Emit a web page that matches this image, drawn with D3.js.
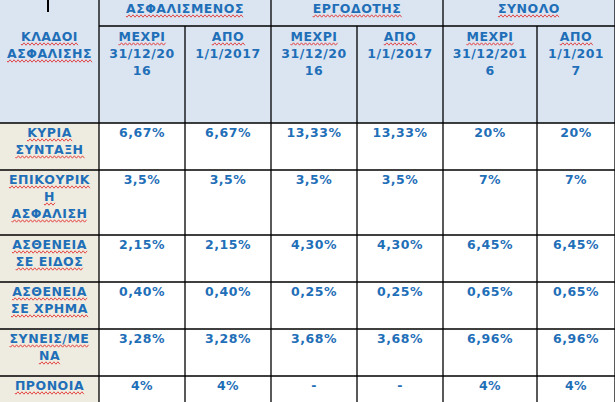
<!DOCTYPE html><html><head><meta charset="utf-8"><script src="https://d3js.org/d3.v7.min.js"></script>
<style>body{margin:0;background:#fff}</style></head><body><svg id="c" width="615" height="402"></svg>
<script>
const groups=["ΑΣΦΑΛΙΣΜΕΝΟΣ","ΕΡΓΟΔΟΤΗΣ","ΣΥΝΟΛΟ"];
const subHeaders=[["ΜΕΧΡΙ","31/12/20","16"],["ΑΠΟ","1/1/2017"],["ΜΕΧΡΙ","31/12/20","16"],["ΑΠΟ","1/1/2017"],["ΜΕΧΡΙ","31/12/201","6"],["ΑΠΟ","1/1/201","7"]];
const rowLabels=[["ΚΥΡΙΑ","ΣΥΝΤΑΞΗ"],["ΕΠΙΚΟΥΡΙΚ","Η","ΑΣΦΑΛΙΣΗ"],["ΑΣΘΕΝΕΙΑ","ΣΕ ΕΙΔΟΣ"],["ΑΣΘΕΝΕΙΑ","ΣΕ ΧΡΗΜΑ"],["ΣΥΝΕΙΣ/ΜΕ","ΝΑ"],["ΠΡΟΝΟΙΑ"]];
const values=[["6,67%","6,67%","13,33%","13,33%","20%","20%"],["3,5%","3,5%","3,5%","3,5%","7%","7%"],["2,15%","2,15%","4,30%","4,30%","6,45%","6,45%"],["0,40%","0,40%","0,25%","0,25%","0,65%","0,65%"],["3,28%","3,28%","3,68%","3,68%","6,96%","6,96%"],["4%","4%","-","-","4%","4%"]];
const colEdges=[0,99,185,271,357,443,537,615];
const rowEdges=[0,26,123,170,235,282,329,376,402];
const svg=d3.select("#c");
const x=i=>colEdges[i], y=i=>rowEdges[i];
const blue="#1f6fb8", hdr="#dbe5f1", beige="#eeece1";
function wave(x0,x1,yy){let d=`M${x0},${yy}`;for(let t=x0;t<x1;t+=2){d+=` L${t+1},${yy+((t-x0)/2%2?-1:1)*1.2}`;}svg.append("path").attr("d",d).attr("fill","none").attr("stroke","#e02020").attr("stroke-width",0.8);}
function lines(arr,cx,top){arr.forEach((s,k)=>{const t=svg.append("text").attr("x",cx).attr("y",top+k*17).attr("text-anchor","middle").attr("font-family","DejaVu Sans").attr("font-weight","bold").attr("font-size",12.5).attr("fill",blue).attr("letter-spacing",0.5).text(s);
 if(/[Α-Ω]/.test(s)){const w=t.node().getComputedTextLength();wave(cx-w/2,cx+w/2,top+k*17+3);}});}
// backgrounds
svg.append("rect").attr("x",0).attr("y",0).attr("width",615).attr("height",y(2)).attr("fill",hdr);
svg.append("rect").attr("x",0).attr("y",y(2)).attr("width",x(1)).attr("height",402-y(2)).attr("fill",beige);
// grid
const g=svg.append("g").attr("stroke","#000").attr("stroke-width",1.3);
[1,3,5,7].forEach(i=>g.append("line").attr("x1",x(i)).attr("x2",x(i)).attr("y1",0).attr("y2",402));
[2,4,6].forEach(i=>g.append("line").attr("x1",x(i)).attr("x2",x(i)).attr("y1",y(1)).attr("y2",402));
g.append("line").attr("x1",x(1)).attr("x2",615).attr("y1",y(1)).attr("y2",y(1));
d3.range(2,8).forEach(i=>g.append("line").attr("x1",0).attr("x2",615).attr("y1",y(i)).attr("y2",y(i)));
svg.append("line").attr("x1",48).attr("x2",48).attr("y1",0).attr("y2",12).attr("stroke","#000").attr("stroke-width",2);
// text
groups.forEach((s,i)=>lines([s],(x(1+2*i)+x(3+2*i))/2,13));
lines(["ΚΛΑΔΟΙ","ΑΣΦΑΛΙΣΗΣ"],x(1)/2,41);
subHeaders.forEach((a,i)=>lines(a,(x(i+1)+x(i+2))/2,41));
rowLabels.forEach((a,r)=>{lines(a,x(1)/2,y(r+2)+14);values[r].forEach((v,c)=>lines([v],(x(c+1)+x(c+2))/2,y(r+2)+14));});
</script></body></html>
